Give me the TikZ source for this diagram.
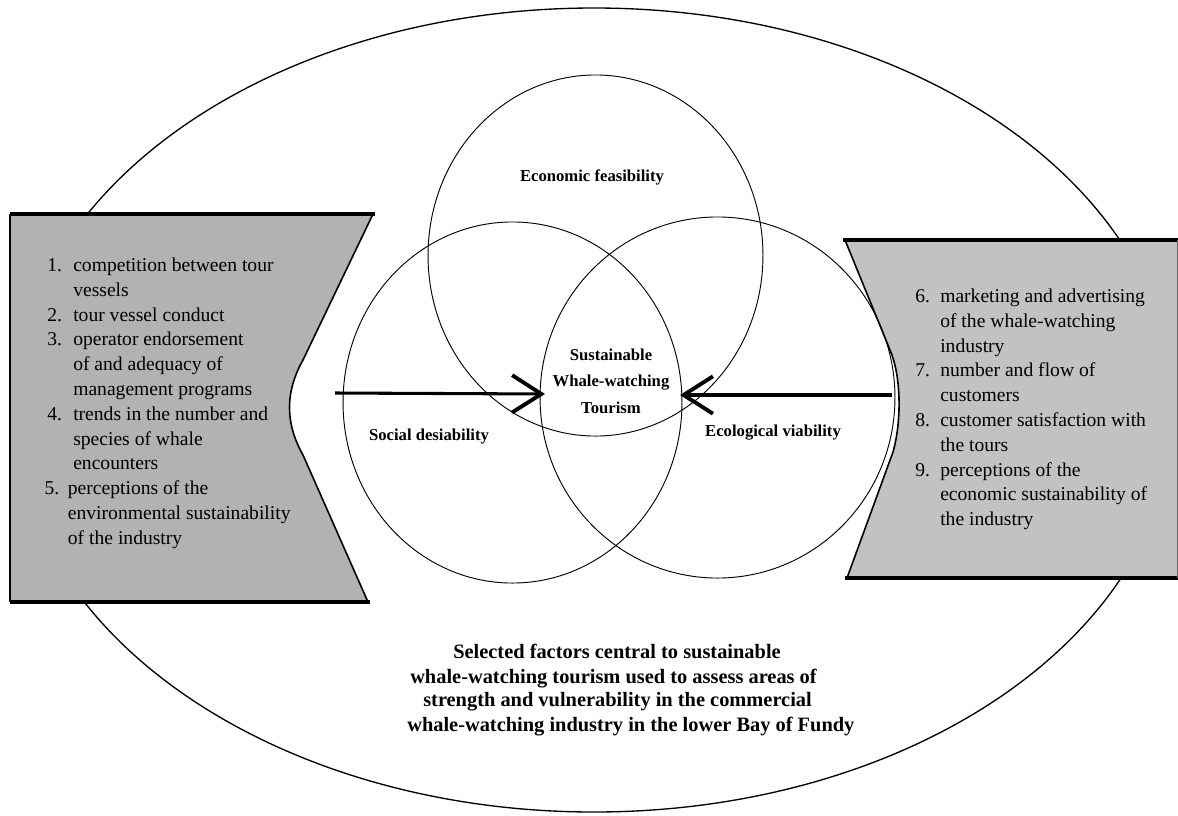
\documentclass[tikz,border=0pt]{standalone}
\usepackage{fontspec}
\setmainfont{Liberation Serif}
\usetikzlibrary{arrows.meta}
\begin{document}
\begin{tikzpicture}[x=0.75pt,y=-0.75pt,
  ring/.style={line width=1pt},
  petal/.style={line width=0.7pt},
  heavy/.style={line width=2.4pt},
  light/.style={line width=1.2pt},
  listtext/.style={anchor=base west, inner sep=0pt, font=\rmfamily\fontsize{14.7}{18.6}\selectfont},
  tag/.style={font=\rmfamily\bfseries\fontsize{12.5}{20}\selectfont, inner sep=0pt, align=center},
  capline/.style={anchor=mid west, inner sep=0pt, font=\rmfamily\bfseries\fontsize{15.3}{18}\selectfont},
  push/.style={line width=2.3pt, -{Straight Barb[length=22pt,width=28pt,line width=2.9pt]}}
]
% page
\fill[white] (0,0) rectangle (1178,815);
\useasboundingbox (0,0) rectangle (1178,815);

% outer ellipse
\draw[ring] (594,410) ellipse [x radius=435pt, y radius=301.5pt];

% left panel
\fill[black!30] (10,214) -- (373,214) -- (303,360)
  .. controls (285,392) and (285,423) .. (303,455) -- (368,602) -- (10,602) -- cycle;
\draw[heavy] (10,214) -- (375,214);
\draw[heavy] (10,602) -- (370,602);
\draw[light] (10,214) -- (10,602);
\draw[light] (373,214) -- (303,360)
  .. controls (285,392) and (285,423) .. (303,455) -- (368,602);

% right panel
\fill[black!24] (845,240) -- (1178,240) -- (1178,578) -- (847,578) -- (893,452)
  .. controls (902,420) and (901,375) .. (890,350) -- cycle;
\draw[heavy] (843,240) -- (1178,240);
\draw[heavy] (845,578) -- (1178,578);
\draw[line width=0.6pt, black!60] (1177,240) -- (1177,578);
\draw[light] (845,240) -- (890,350)
  .. controls (901,375) and (902,420) .. (893,452) -- (847,578);

% three overlapping circles
\draw[petal] (595.5,255.5) ellipse [x radius=125.6pt, y radius=135.4pt];
\draw[petal] (512.5,402.5) ellipse [x radius=127.1pt, y radius=135.4pt];
\draw[petal] (717.5,397.5) ellipse [x radius=133.1pt, y radius=135.4pt];

% circle labels
\node[tag] (econ) at (592,177) {Economic feasibility};
\node[tag] (soc) at (429,437) {Social desiability};
\node[tag] (eco) at (773,433) {Ecological viability};
\node[tag] (core) at (611,381) {Sustainable\\Whale-watching\\Tourism};

% arrows into the centre
\coordinate (lfoot) at (335,393);
\coordinate (ltip) at (545,394);
\coordinate (rfoot) at (892,395);
\coordinate (rtip) at (680,395);
\draw[push] (lfoot) -- (ltip);
\draw[push] (rfoot) -- (rtip);

% factor lists
\node[listtext] (leftlist) at (47,271.5) {\begin{tabular}[t]{@{}p{19.5pt}@{}l@{}}
1. & competition between tour\\
   & vessels\\
2. & tour vessel conduct\\
3. & operator endorsement\\
   & of and adequacy of\\
   & management programs\\
4. & trends in the number and\\
   & species of whale\\
   & encounters\\
\hspace*{-2pt}5. & \hspace*{-4pt}perceptions of the\\
   & \hspace*{-4pt}environmental sustainability\\
   & \hspace*{-4pt}of the industry
\end{tabular}};

\node[listtext] (rightlist) at (915,302.5) {\begin{tabular}[t]{@{}p{18.75pt}@{}l@{}}
6. & marketing and advertising\\
   & of the whale-watching\\
   & industry\\
7. & number and flow of\\
   & customers\\
8. & customer satisfaction with\\
   & the tours\\
9. & perceptions of the\\
   & economic sustainability of\\
   & the industry
\end{tabular}};

% caption
\node[capline] (cap1) at (453,655) {Selected factors central to sustainable};
\node[capline] (cap2) at (410,680) {whale-watching tourism used to assess areas of};
\node[capline] (cap3) at (423,703) {strength and vulnerability in the commercial};
\node[capline] (cap4) at (407,728) {whale-watching industry in the lower Bay of Fundy};
\end{tikzpicture}
\end{document}
